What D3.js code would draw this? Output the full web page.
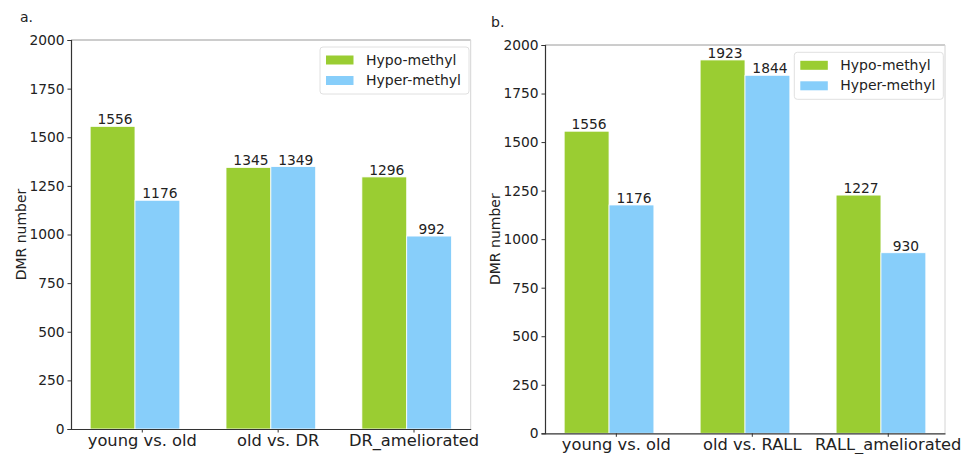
<!DOCTYPE html>
<html>
<head>
<meta charset="utf-8">
<script src="https://cdn.jsdelivr.net/npm/d3@7"></script>
<style>
  body { margin: 0; background: #fff; }
  svg { display: block; font-family: "DejaVu Sans", sans-serif; }
</style>
</head>
<body>
<div id="chart"></div>
<script>
// data
var seriesNames = ['Hypo-methyl', 'Hyper-methyl'];
var seriesColors = ['#9acd32', '#87cefa'];
var yTicks = [0, 250, 500, 750, 1000, 1250, 1500, 1750, 2000];

var categoriesA = ['young vs. old', 'old vs. DR', 'DR_ameliorated'];
var hypoA = [1556, 1345, 1296];
var hyperA = [1176, 1349, 992];

var categoriesB = ['young vs. old', 'old vs. RALL', 'RALL_ameliorated'];
var hypoB = [1556, 1923, 1227];
var hyperB = [1176, 1844, 930];

var W = 970, H = 454;

var svg = d3.select('#chart')
  .append('svg')
  .attr('width', W)
  .attr('height', H);

svg.append('rect').attr('width', W).attr('height', H).attr('fill', '#fff');

// draw one panel of grouped bars
function panel(opt) {
  var barW = 0.33;
  var n = opt.categories.length;

  var x = d3.scaleLinear()
    .domain([-0.471, n - 1 + 0.471])
    .range([opt.left, opt.right]);
  var y = d3.scaleLinear()
    .domain([0, 2000])
    .range([opt.bottom, opt.top]);

  var g = svg.append('g');

  // panel letter
  g.append('text')
    .attr('x', opt.letterX)
    .attr('y', opt.letterY)
    .style('font-size', '14px')
    .style('fill', '#222')
    .text(opt.letter);

  var series = [opt.hypo, opt.hyper];
  series.forEach(function (vals, s) {
    var bars = g.selectAll('.bar' + s)
      .data(vals)
      .enter();
    bars.append('rect')
      .attr('x', function (d, i) { return x(i - barW + s * barW); })
      .attr('width', x(barW) - x(0))
      .attr('y', function (d) { return y(d); })
      .attr('height', function (d) { return y(0) - y(d); })
      .attr('fill', seriesColors[s])
      .attr('stroke', '#fff')
      .attr('stroke-width', 0.8);
    bars.append('text')
      .attr('x', function (d, i) { return x(i - barW / 2 + s * barW) + 2.5; })
      .attr('y', function (d) { return y(d) - 2; })
      .attr('text-anchor', 'middle')
      .style('font-size', '13.8px')
      .style('fill', '#222')
      .text(function (d) { return d; });
  });

  // spines
  g.append('line').attr('x1', opt.left).attr('x2', opt.right)
    .attr('y1', opt.top).attr('y2', opt.top)
    .attr('stroke', '#9a9a9a').attr('stroke-width', 1);
  g.append('line').attr('x1', opt.right).attr('x2', opt.right)
    .attr('y1', opt.top).attr('y2', opt.bottom)
    .attr('stroke', '#d4d4d4').attr('stroke-width', 1);

  // y axis
  var yAxis = g.append('g')
    .attr('transform', 'translate(' + opt.left + ',0)')
    .call(d3.axisLeft(y).tickValues(yTicks).tickFormat(d3.format('d'))
      .tickSize(3.5).tickPadding(3));
  yAxis.select('.domain').attr('stroke', '#333').attr('stroke-width', 1.2);
  yAxis.selectAll('.tick line').attr('stroke', '#333');
  yAxis.selectAll('.tick text')
    .attr('fill', '#222')
    .style('font-size', '13.8px')
    .style('font-family', '"DejaVu Sans", sans-serif');

  // x axis, ticks sit a little right of the group centre
  var xAxis = g.append('g')
    .attr('transform', 'translate(0,' + opt.bottom + ')')
    .call(d3.axisBottom(x)
      .tickValues(d3.range(n).map(function (i) { return i + 0.05; }))
      .tickFormat(function (d, i) { return opt.categories[i]; })
      .tickSize(3.5).tickPadding(2)
      .tickSizeOuter(0));
  xAxis.select('.domain').attr('stroke', '#333').attr('stroke-width', 1.2);
  xAxis.selectAll('.tick line').attr('stroke', '#333');
  xAxis.selectAll('.tick text')
    .attr('fill', '#222')
    .style('font-size', '16.3px')
    .style('font-family', '"DejaVu Sans", sans-serif');

  // y label
  g.append('text')
    .attr('transform', 'translate(' + opt.ylabelX + ',' + (opt.top + opt.bottom) / 2 + ') rotate(-90)')
    .attr('text-anchor', 'middle')
    .style('font-size', '14px')
    .style('fill', '#222')
    .text('DMR number');

  // legend
  var lg = g.append('g')
    .attr('transform', 'translate(' + opt.legendX + ',' + opt.legendY + ')');
  lg.append('rect')
    .attr('width', 149).attr('height', 47)
    .attr('rx', 3)
    .attr('fill', '#fff').attr('fill-opacity', 0.85)
    .attr('stroke', '#e0e0e0');
  seriesNames.forEach(function (name, s) {
    lg.append('rect')
      .attr('x', 6).attr('y', 8.5 + s * 20.5)
      .attr('width', 27.5).attr('height', 9)
      .attr('fill', seriesColors[s]);
    lg.append('text')
      .attr('x', 46).attr('y', 17.5 + s * 20.5)
      .style('font-size', '14px')
      .style('fill', '#222')
      .text(name);
  });
}

panel({
  letter: 'a.', letterX: 20, letterY: 22,
  categories: categoriesA, hypo: hypoA, hyper: hyperA,
  left: 71, right: 470.7, top: 40, bottom: 429,
  ylabelX: 26, legendX: 320, legendY: 47
});

panel({
  letter: 'b.', letterX: 491, letterY: 27,
  categories: categoriesB, hypo: hypoB, hyper: hyperB,
  left: 545, right: 945, top: 45, bottom: 433.3,
  ylabelX: 500, legendX: 794.3, legendY: 52.3
});
</script>
</body>
</html>
